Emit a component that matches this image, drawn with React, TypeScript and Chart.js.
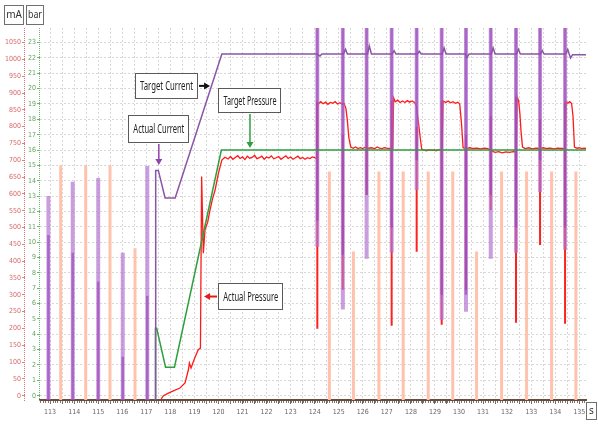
import React, { useEffect, useRef } from 'react';
import { Chart, registerables } from 'chart.js';

Chart.register(...registerables);

// ---------- axes ----------
const timeMin = 112.58;
const timeMax = 135.28;
const barMin = -0.28;
const barMax = 23.95;
const mAPerBar = 1050 / 23; // 1050 mA sits level with 23 bar
const timeStep = 0.5;
const barStep = 1;
const mAStep = 50;

// ---------- orange valve pulses (bar) ----------
const valveTimes = [113.44, 114.48, 115.49, 116.53, 124.61, 125.61, 126.67, 127.68, 128.72, 129.74, 130.73, 131.77, 132.81, 133.85, 134.86];
const valveHeights = [15.0, 15.0, 15.0, 9.6, 14.6, 9.4, 14.6, 14.6, 14.6, 14.6, 9.4, 14.6, 14.6, 14.6, 14.6];

// ---------- early actual-current pulses (mA) ----------
const earlyCurrentTimes = [112.93, 113.94, 115.0, 116.02, 117.04];
const earlyCurrentTops = [594, 636, 647, 425, 683];
const earlyCurrentCores = [478, 425, 339, 116, 297];

// ---------- solenoid spikes after 124 s ----------
const spikeTimes = [124.11, 125.17, 126.16, 127.2, 128.24, 129.28, 130.29, 131.32, 132.37, 133.37, 134.41];
const spikeCurrentHigh = [1150, 1150, 1150, 1150, 1150, 1150, 1150, 1150, 1150, 1150, 1150];
const spikeCurrentLows = [443, 256, 407, 425, 612, 226, 250, 407, 425, 606, 434];
const spikeCurrentCores = [520, 419, 597, 500, 700, 300, 300, 597, 500, 700, 500];
const spikePressureTops = [19.1, 17.0, 18.0, 19.2, 17.5, 19.2, 17.0, 18.2, 19.45, 18.0, 19.1];
const spikePressureLows = [4.36, 6.9, 13.08, 4.55, 9.37, 4.62, 6.9, 12.1, 4.75, 9.82, 4.68];

// ---------- target current (mA) ----------
const targetCurrent: [number, number][] = [
  [117.38, -14], [117.39, 670], [117.5, 670], [117.78, 588], [118.2, 588], [120.14, 1016],
  [124.09, 1016], [124.22, 1010], [124.3, 1016], [125.2, 1016], [125.28, 1030], [125.36, 1016],
  [126.2, 1016], [126.27, 1040], [126.36, 1016], [127.22, 1016], [127.3, 1026], [127.38, 1016],
  [128.27, 1016], [128.35, 1024], [128.43, 1016], [129.3, 1016], [129.38, 1034], [129.46, 1016],
  [130.27, 1016], [130.33, 1006], [130.42, 1016], [131.34, 1016], [131.42, 1034], [131.5, 1016],
  [132.39, 1016], [132.47, 1030], [132.55, 1016], [133.39, 1016], [133.46, 1026], [133.54, 1016],
  [134.43, 1016], [134.52, 1030], [134.58, 1016], [134.64, 1004], [134.72, 1014], [135.3, 1014],
];

// ---------- target pressure (bar) ----------
const targetPressure: [number, number][] = [
  [117.38, -0.3], [117.38, 4.4], [117.43, 4.4], [117.8, 1.86], [118.17, 1.86], [120.12, 16.0], [135.3, 16.0],
];

// ---------- actual pressure (bar) ----------
const actualPressure: [number, number][] = [
  [117.62, -0.2], [117.71, 0.0], [117.9, 0.15], [118.1, 0.3], [118.4, 0.5], [118.61, 0.83], [118.75, 1.69],
  [118.79, 2.13], [118.86, 1.8], [119.0, 2.4], [119.16, 3.0], [119.25, 3.1], [119.3, 14.27], [119.37, 9.28],
  [119.44, 10.8], [119.55, 11.3], [119.65, 12.1], [119.75, 12.8], [119.86, 13.4], [120.0, 14.5], [120.14, 15.35],
  [120.27, 15.53], [120.4, 15.42], [120.5, 15.58], [120.6, 15.4], [120.7, 15.52], [120.8, 15.63], [120.9, 15.45],
  [121.0, 15.55], [121.1, 15.38], [121.2, 15.6], [121.3, 15.47], [121.4, 15.52], [121.5, 15.66], [121.6, 15.44],
  [121.7, 15.5], [121.8, 15.6], [121.9, 15.4], [122.0, 15.55], [122.1, 15.48], [122.2, 15.62], [122.3, 15.43],
  [122.4, 15.5], [122.5, 15.58], [122.6, 15.4], [122.7, 15.52], [122.8, 15.62], [122.9, 15.45], [123.0, 15.55],
  [123.1, 15.4], [123.2, 15.5], [123.3, 15.6], [123.4, 15.44], [123.5, 15.52], [123.6, 15.4], [123.7, 15.5],
  [123.8, 15.45], [123.9, 15.55], [124.0, 15.5], [124.07, 15.45],
  [124.09, 19.1], [124.15, 19.0], [124.25, 19.15], [124.35, 19.02], [124.45, 19.12], [124.55, 18.98], [124.65, 19.1],
  [124.75, 19.05], [124.85, 19.15], [124.95, 19.0], [125.05, 19.08], [125.15, 18.98], [125.22, 19.05], [125.3, 18.7],
  [125.36, 17.9], [125.42, 16.8], [125.5, 16.2],
  [125.6, 16.12], [125.7, 16.2], [125.8, 16.1], [125.9, 16.15], [126.0, 16.1], [126.1, 16.18], [126.25, 16.12],
  [126.35, 16.15], [126.5, 16.1], [126.6, 16.2], [126.7, 16.12], [126.8, 16.1], [126.9, 16.15], [127.0, 16.12],
  [127.1, 16.1], [127.25, 16.1],
  [127.28, 19.4], [127.35, 19.15], [127.45, 19.25], [127.55, 19.1], [127.65, 19.2], [127.75, 19.1], [127.85, 19.22],
  [127.95, 19.12], [128.05, 19.2], [128.15, 19.1], [128.22, 18.9], [128.3, 18.0], [128.38, 16.9], [128.45, 16.05],
  [128.55, 16.0], [128.65, 15.95], [128.75, 16.02], [128.85, 15.98], [128.95, 16.0], [129.05, 15.95], [129.15, 16.02],
  [129.3, 16.0],
  [129.34, 19.2], [129.45, 19.1], [129.55, 19.2], [129.65, 19.08], [129.75, 19.15], [129.85, 19.05], [129.95, 19.12],
  [130.03, 19.0], [130.1, 17.8], [130.17, 16.15],
  [130.3, 16.1], [130.45, 16.15], [130.6, 16.1], [130.75, 16.12], [130.9, 16.08], [131.05, 16.12], [131.2, 16.1],
  [131.35, 15.95], [131.5, 15.85], [131.65, 15.9], [131.8, 15.82], [131.95, 15.88], [132.1, 15.85], [132.25, 15.9],
  [132.38, 15.88],
  [132.42, 19.45], [132.48, 19.2], [132.53, 18.4], [132.58, 17.2], [132.64, 16.2],
  [132.75, 16.1], [132.9, 16.15], [133.05, 16.08], [133.2, 16.12], [133.35, 16.1], [133.5, 16.15], [133.65, 16.1],
  [133.8, 16.12], [133.95, 16.08], [134.1, 16.12], [134.25, 16.1], [134.42, 16.1],
  [134.45, 19.15], [134.52, 19.05], [134.6, 19.15], [134.68, 19.05], [134.74, 18.2], [134.8, 16.2],
  [134.9, 16.12], [135.0, 16.15], [135.1, 16.1], [135.2, 16.12], [135.3, 16.1],
];

// ---------- callouts (anchored in data units: time, bar) ----------
type Note = { text: string; t: number; v: number; w: number; h: number; dir: 'right' | 'down' | 'left'; tipT: number; tipV: number; color: string; lw: number };
const notes: Note[] = [
  { text: 'Target Current', t: 117.84, v: 20.18, w: 63, h: 26, dir: 'right', tipT: 119.65, tipV: 20.18, color: '#111111', lw: 2 },
  { text: 'Actual Current', t: 117.52, v: 17.38, w: 61, h: 28, dir: 'down', tipT: 117.52, tipV: 15.03, color: '#8e44ad', lw: 1.5 },
  { text: 'Target Pressure', t: 121.31, v: 19.21, w: 63, h: 25, dir: 'down', tipT: 121.31, tipV: 16.14, color: '#2e9e3e', lw: 1.5 },
  { text: 'Actual Pressure', t: 121.34, v: 6.46, w: 65, h: 27, dir: 'left', tipT: 119.4, tipV: 6.46, color: '#e31b1b', lw: 2 },
];

const tickFamily = '"Liberation Sans Narrow", "DejaVu Sans Condensed", "Roboto Condensed", Roboto, sans-serif';

type Pt = { x: number; y: number | null };
function pulseSegments(times: number[], from: number[], to: number[]): Pt[] {
  const pts: Pt[] = [];
  times.forEach((t, i) => {
    pts.push({ x: t, y: from[i] }, { x: t, y: to[i] }, { x: t, y: null });
  });
  return pts;
}
const pairs = (arr: [number, number][]): Pt[] => arr.map(([x, y]) => ({ x, y }));

function drawCondensed(ctx: CanvasRenderingContext2D, text: string, cx: number, cy: number, maxW: number, font: string, color: string) {
  ctx.save();
  ctx.font = font;
  ctx.fillStyle = color;
  ctx.textAlign = 'center';
  ctx.textBaseline = 'middle';
  const m = ctx.measureText(text).width;
  const s = Math.min(1, maxW / m);
  ctx.translate(cx, cy);
  ctx.scale(s, 1);
  ctx.fillText(text, 0, 0);
  ctx.restore();
}

function drawTag(ctx: CanvasRenderingContext2D, text: string, x: number, y: number, w: number, h: number, font: string) {
  ctx.save();
  ctx.fillStyle = '#ffffff';
  ctx.fillRect(x, y, w, h);
  ctx.strokeStyle = '#6f6f6f';
  ctx.lineWidth = 1;
  ctx.strokeRect(x + 0.5, y + 0.5, w - 1, h - 1);
  ctx.restore();
  drawCondensed(ctx, text, x + w / 2, y + h / 2 + 0.5, w - 4, font, '#333333');
}

function arrowHead(ctx: CanvasRenderingContext2D, x: number, y: number, dx: number, dy: number, color: string) {
  const L = 6, W = 3.5;
  ctx.save();
  ctx.fillStyle = color;
  ctx.beginPath();
  ctx.moveTo(x, y);
  ctx.lineTo(x - dx * L - dy * W, y - dy * L + dx * W);
  ctx.lineTo(x - dx * L + dy * W, y - dy * L - dx * W);
  ctx.closePath();
  ctx.fill();
  ctx.restore();
}

const overlayPlugin = {
  id: 'overlay',
  afterDraw(chart: any) {
    const ctx: CanvasRenderingContext2D = chart.ctx;
    const xs = chart.scales.x;
    const yb = chart.scales.yB;
    const ya = chart.scales.yA;
    const area = chart.chartArea;
    ctx.save();
    ctx.lineWidth = 1;
    ctx.setLineDash([1, 1]);
    ctx.strokeStyle = '#e07070';
    ctx.beginPath();
    ctx.moveTo(ya.right - 0.5, area.top);
    ctx.lineTo(ya.right - 0.5, area.bottom + 1);
    ctx.stroke();
    ctx.strokeStyle = '#6cb56c';
    ctx.beginPath();
    ctx.moveTo(yb.right - 0.5, area.top);
    ctx.lineTo(yb.right - 0.5, area.bottom + 1);
    ctx.stroke();
    ctx.setLineDash([]);
    ctx.strokeStyle = '#777777';
    for (let k = Math.ceil(xs.min * 10); k <= Math.floor(xs.max * 10); k++) {
      const px = Math.round(xs.getPixelForValue(k / 10)) + 0.5;
      ctx.beginPath();
      ctx.moveTo(px, area.bottom + 1);
      ctx.lineTo(px, area.bottom + 3);
      ctx.stroke();
    }
    ctx.restore();

    const tagFont = '10px "Noto Sans", sans-serif';
    drawTag(ctx, 'mA', ya.left + 4, 5, ya.right - ya.left - 5, 20, tagFont);
    drawTag(ctx, 'bar', yb.left + 1, 5, yb.right - yb.left + 3, 20, tagFont);
    drawTag(ctx, 's', xs.right, area.bottom + 2, 11, 18, tagFont);

    const noteFont = '13px "Noto Sans", sans-serif';
    notes.forEach((n) => {
      const cx = xs.getPixelForValue(n.t);
      const cy = yb.getPixelForValue(n.v);
      const x0 = Math.round(cx - n.w / 2);
      const y0 = Math.round(cy - n.h / 2);
      const tx = xs.getPixelForValue(n.tipT);
      const ty = yb.getPixelForValue(n.tipV);
      ctx.save();
      ctx.strokeStyle = n.color;
      ctx.lineWidth = n.lw;
      ctx.beginPath();
      let sx = 0, sy = 0, dx = 0, dy = 0;
      if (n.dir === 'right') { sx = x0 + n.w + 1; sy = cy; dx = 1; }
      else if (n.dir === 'left') { sx = x0 - 1; sy = cy; dx = -1; }
      else { sx = cx; sy = y0 + n.h + 1; dy = 1; }
      const ex = n.dir === 'down' ? sx : tx;
      const ey = n.dir === 'down' ? ty : sy;
      ctx.moveTo(sx, sy);
      ctx.lineTo(ex - dx * 4, ey - dy * 4);
      ctx.stroke();
      ctx.restore();
      arrowHead(ctx, ex, ey, dx, dy, n.color);
      ctx.save();
      ctx.fillStyle = '#ffffff';
      ctx.fillRect(x0, y0, n.w, n.h);
      ctx.strokeStyle = '#5a5a5a';
      ctx.lineWidth = 1;
      ctx.strokeRect(x0 + 0.5, y0 + 0.5, n.w - 1, n.h - 1);
      ctx.restore();
      drawCondensed(ctx, n.text, cx, y0 + n.h / 2 + 0.5, n.w - 10, noteFont, '#222222');
    });
  },
};

export default function App() {
  const ref = useRef<HTMLCanvasElement | null>(null);
  useEffect(() => {
    if (!ref.current) return;
    const mAMin = barMin * mAPerBar;
    const mAMax = barMax * mAPerBar;
    const pulseBaseBar = barMin - 0.05;
    const pulseBaseMA = mAMin - 2;
    const line = (extra: any) => ({
      type: 'line',
      pointRadius: 0,
      tension: 0,
      spanGaps: false,
      fill: false,
      clip: 0,
      xAxisID: 'x',
      ...extra,
    });
    const chart = new Chart(ref.current, {
      type: 'line',
      data: {
        datasets: [
          line({
            label: 'Valve',
            data: pulseSegments(valveTimes, valveTimes.map(() => pulseBaseBar), valveHeights),
            borderColor: 'rgb(255,194,172)',
            borderWidth: 3,
            yAxisID: 'yB',
            order: 10,
          }),
          line({
            label: 'Actual Pressure',
            data: pairs(actualPressure),
            borderColor: '#ff1a1a',
            borderWidth: 1.3,
            yAxisID: 'yB',
            order: 8,
          }),
          line({
            label: 'Pressure spikes',
            data: pulseSegments(spikeTimes, spikePressureTops, spikePressureLows),
            borderColor: '#ff2020',
            borderWidth: 2,
            yAxisID: 'yB',
            order: 7,
          }),
          line({
            label: 'Actual Current',
            data: [
              ...pulseSegments(earlyCurrentTimes, earlyCurrentTimes.map(() => pulseBaseMA), earlyCurrentTops),
              ...pulseSegments(spikeTimes, spikeCurrentHigh, spikeCurrentLows),
            ],
            borderColor: 'rgba(180,115,210,0.7)',
            borderWidth: 4,
            yAxisID: 'yA',
            order: 6,
          }),
          line({
            label: 'Actual Current core',
            data: [
              ...pulseSegments(earlyCurrentTimes, earlyCurrentTimes.map(() => pulseBaseMA), earlyCurrentCores),
              ...pulseSegments(spikeTimes, spikeCurrentHigh, spikeCurrentCores),
            ],
            borderColor: 'rgba(150,65,180,0.6)',
            borderWidth: 2.5,
            yAxisID: 'yA',
            order: 5,
          }),
          line({
            label: 'Target Pressure',
            data: pairs(targetPressure),
            borderColor: '#2e9e3e',
            borderWidth: 1.5,
            yAxisID: 'yB',
            order: 3,
          }),
          line({
            label: 'Target Current',
            data: pairs(targetCurrent),
            borderColor: '#8a55a6',
            borderWidth: 1.5,
            yAxisID: 'yA',
            order: 2,
          }),
        ],
      },
      options: {
        animation: false,
        responsive: false,
        events: [],
        layout: { padding: { left: 0, right: 12, top: 28, bottom: 8 } },
        plugins: { legend: { display: false }, tooltip: { enabled: false } },
        scales: {
          x: {
            type: 'linear',
            position: 'bottom',
            min: timeMin,
            max: timeMax,
            afterFit: (s: any) => { s.height = 22; },
            ticks: {
              stepSize: timeStep,
              includeBounds: false,
              autoSkip: false,
              maxRotation: 0,
              padding: 4,
              color: '#666666',
              font: { size: 7, family: tickFamily },
              callback: (v: any) => (Math.abs(v - Math.round(v)) < 1e-6 ? String(Math.round(v)) : ''),
            },
            grid: { color: '#d8d8d8', tickColor: '#666666', tickLength: 4, lineWidth: 1 },
            border: { display: true, color: '#6b4c3b', width: 2, dash: [2, 2] },
          },
          yA: {
            type: 'linear',
            position: 'left',
            weight: 2,
            min: mAMin,
            max: mAMax,
            afterFit: (s: any) => { s.width = 25; },
            ticks: {
              stepSize: mAStep,
              includeBounds: false,
              autoSkip: false,
              padding: 1,
              color: '#d46a6a',
              font: { size: 7, family: tickFamily },
              callback: (v: any) => String(Math.round(v)),
            },
            grid: { display: true, drawOnChartArea: false, drawTicks: true, tickLength: 3, tickColor: '#e08080' },
            border: { display: false },
          },
          yB: {
            type: 'linear',
            position: 'left',
            weight: 1,
            min: barMin,
            max: barMax,
            afterFit: (s: any) => { s.width = 15; },
            ticks: {
              stepSize: barStep,
              includeBounds: false,
              autoSkip: false,
              padding: 1,
              color: '#5fa35f',
              font: { size: 7, family: tickFamily },
              callback: (v: any) => String(Math.round(v)),
            },
            grid: { color: '#d8d8d8', tickColor: '#6cb56c', tickLength: 3, lineWidth: 1 },
            border: { display: false, dash: [2, 2] },
          },
        },
      } as any,
      plugins: [overlayPlugin],
    } as any);
    return () => chart.destroy();
  }, []);
  return (
    <div style={{ position: 'absolute', left: 0, top: 0, width: 598, height: 430, background: '#ffffff' }}>
      <canvas ref={ref} width={598} height={430} style={{ display: 'block' }} />
    </div>
  );
}
